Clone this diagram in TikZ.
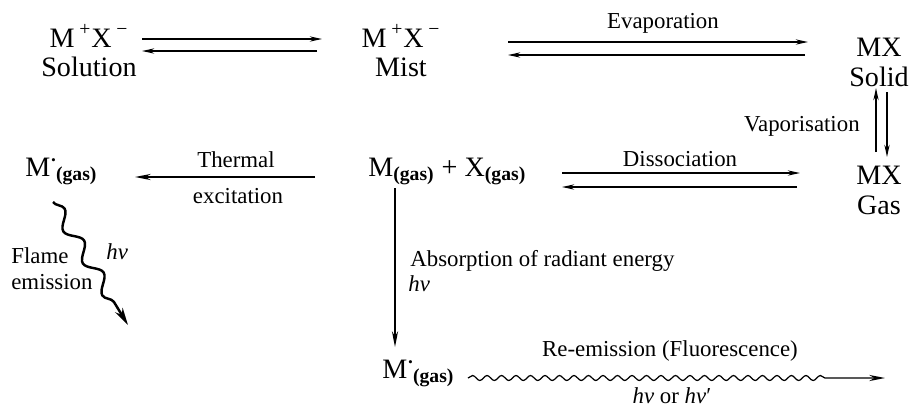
\documentclass[tikz,border=0pt]{standalone}
\usepackage{fontspec}
\setmainfont{Liberation Serif}
\usepackage{tikz}
\usetikzlibrary{arrows.meta, decorations.pathmorphing}
\newcommand{\gs}{\textsubscript{\textbf{(gas)}}}
\newcommand{\exdot}{\hspace{0.5pt}\raisebox{0.5em}{\fontsize{11}{11}\selectfont\textbf{.}}}
\newcommand{\hnu}{\textit{hν}}

\begin{document}
\begin{tikzpicture}[x=0.02cm, y=-0.02cm,
            sp/.style={font=\fontsize{16}{17}\selectfont, inner sep=0pt, align=center},
            lbl/.style={font=\fontsize{13}{14.7}\selectfont, inner sep=0pt},
            fwd/.style={line width=0.7pt, -{Stealth[length=7pt, width=3pt]}},
            wav/.style={decorate, decoration={snake, amplitude=#1}}]
            \useasboundingbox (0,0) rectangle (913,407);
            % species
            \node[sp] (sol) at (89,51) {M\,\textsuperscript{+}X\,\textsuperscript{−}\\Solution};
            \node[sp] (mist) at (401,51) {M\,\textsuperscript{+}X\,\textsuperscript{−}\\Mist};
            \node[sp] (solid) at (879,62) {MX\\Solid};
            \node[sp] (mxgas) at (879,190) {MX\\Gas};
            \node[sp, anchor=base west] (mstar) at (25,176) {M\exdot\gs};
            \node[sp, anchor=base west] (mx) at (368,176) {M\gs{} + X\gs};
            \node[sp, anchor=base west] (mfl) at (382,378) {M\exdot\gs};
            % labels
            \node[lbl, anchor=base] (evap) at (663,28) {Evaporation};
            \node[lbl, anchor=base east] (vap) at (860,131) {Vaporisation};
            \node[lbl, anchor=base] (diss) at (680,166) {Dissociation};
            \node[lbl, anchor=base] (therm) at (236,167) {Thermal};
            \node[lbl, anchor=base] (exc) at (238,203) {excitation};
            \node[lbl, align=left, anchor=west] (flame) at (11,269) {Flame\\emission};
            \node[lbl, anchor=base west] (hv1) at (106,259) {\hnu};
            \node[lbl, anchor=base west] (absn) at (410,266) {Absorption of radiant energy};
            \node[lbl, anchor=base west] (hv2) at (408,291) {\hnu};
            \node[lbl, anchor=base] (reem) at (670,356) {Re-emission (Fluorescence)};
            \node[lbl, anchor=base] (hv3) at (672,403) {\hnu{} or \hnu′};
            % arrow ends
            \coordinate (s1) at (142,39); \coordinate (s2) at (322,39);
            \coordinate (s3) at (317,51); \coordinate (s4) at (142,51);
            \coordinate (e1) at (508,42); \coordinate (e2) at (808,42);
            \coordinate (e3) at (805,55); \coordinate (e4) at (508,55);
            \coordinate (v1) at (876,152); \coordinate (v2) at (876,88);
            \coordinate (v3) at (887,92); \coordinate (v4) at (887,157);
            \coordinate (d1) at (562,173); \coordinate (d2) at (800,173);
            \coordinate (d3) at (797,187); \coordinate (d4) at (562,187);
            \coordinate (t1) at (315,177); \coordinate (t2) at (135,177);
            \coordinate (a1) at (395,188); \coordinate (a2) at (395,347);
            \coordinate (f1) at (53,202); \coordinate (f2) at (128,325);
            \coordinate (r1) at (468,378); \coordinate (r2) at (885,378);
            \foreach \i/\j in {s1/s2,s3/s4,e1/e2,e3/e4,v1/v2,v3/v4,d1/d2,d3/d4} {
                \draw[fwd] (\i) -- (\j);
            }
            \draw[fwd, -{Stealth[length=9pt, width=3.5pt]}] (t1) -- (t2);
            \draw[fwd, line width=0.6pt, -{Stealth[length=9pt, width=3.5pt]}] (a1) -- (a2);
            \draw[line width=1.4pt, -{Stealth[length=10pt, width=5pt]},
                wav=0.13cm, decoration={segment length=0.75cm, post length=0.5cm}] (f1) -- (f2);
            \draw[line width=0.7pt, -{Stealth[length=9pt, width=3.5pt]},
                wav=0.05cm, decoration={segment length=0.29cm, post length=1.1cm}] (r1) -- (r2);
        \end{tikzpicture}
\end{document}
